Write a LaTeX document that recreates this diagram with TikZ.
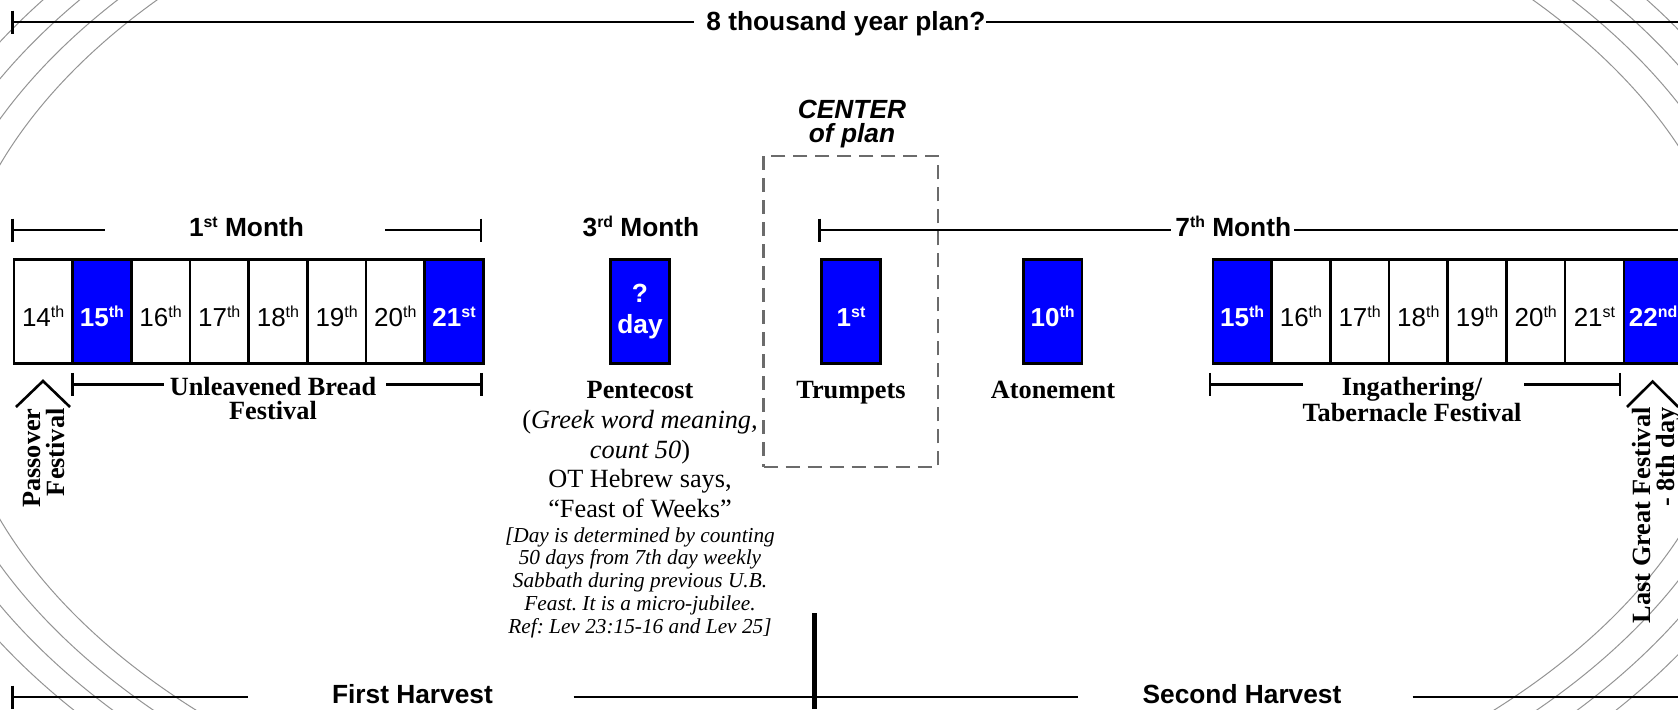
\documentclass[tikz,border=0pt]{standalone}
\usepackage{fontspec}
\setmainfont{Liberation Serif}
\setsansfont{Liberation Sans}
\frenchspacing
\newcommand\supx[1]{\raisebox{0.33em}{\fontsize{8}{8}\selectfont #1}}
\newcommand\supm[1]{\raisebox{0.36em}{\fontsize{7.9}{8}\selectfont #1}}
\tikzset{
  ruler/.style={line width=1.3pt},
  ring/.style={line width=0.5pt, draw=black!42},
  daybox/.style={draw, line width=1.3pt, fill=white, minimum width=29.35pt,
    minimum height=52pt, inner sep=0pt, text height=15pt, text depth=0pt,
    anchor=north west, font=\sffamily\fontsize{13}{14}\selectfont},
  bluebox/.style={daybox, fill=blue, text=white,
    font=\sffamily\bfseries\fontsize{13}{14}\selectfont},
  qbox/.style={draw, line width=1.3pt, fill=blue, text=white, minimum width=29.35pt,
    minimum height=52pt, inner sep=0pt, align=center, anchor=north,
    font=\sffamily\bfseries\fontsize{13.15}{15.5}\selectfont},
  head/.style={font=\sffamily\bfseries\fontsize{13.15}{15}\selectfont, inner sep=0pt},
  feast/.style={font=\bfseries\fontsize{13.15}{11.65}\selectfont, inner sep=0pt},
  rotfeast/.style={font=\bfseries\fontsize{13.15}{12}\selectfont, inner sep=0pt,
    rotate=90, align=right, anchor=north east},
  chev/.style={line width=1.3pt},
  dashbox/.style={draw=black!58, line width=1.4pt, dash pattern=on 7pt off 4pt,
    minimum width=87.2pt, minimum height=155.5pt, inner sep=0pt},
}
\begin{document}
\begin{tikzpicture}[x=0.5pt,y=-0.5pt]
\useasboundingbox (0,0) rectangle (1678,709);
% background rings
\begin{scope}
\clip (0,0) rectangle (1678,709);
\foreach \k in {0,...,3}{
  \draw[ring] (845,342) ellipse [x radius=447.8pt+13.2pt*\k, y radius=267.1pt+11.25pt*\k];
}
\end{scope}

% ---- top title line
\node[head, anchor=base west] (title) at (706,30) {8 thousand year plan?};
\coordinate (tL) at (12.5,22);
\coordinate (tLe) at (694,22);
\coordinate (tR) at (1678,22);
\draw[ruler] (tL) -- (tLe);
\draw[ruler] (title.east |- tR) -- (tR);
\draw[ruler] (tL) ++(0,-11.5) -- ++(0,23);

% ---- month headers
\node[head, anchor=base] (m1) at (246.5,236.7) {1\supm{st} Month};
\coordinate (m1L) at (12.5,230);
\coordinate (m1La) at (105,230);
\coordinate (m1Rb) at (385,230);
\coordinate (m1R) at (481,230);
\draw[ruler] (m1L) -- (m1La);
\draw[ruler] (m1Rb) -- (m1R);
\draw[ruler] (m1L) ++(0,-11.5) -- ++(0,23);
\draw[ruler] (m1R) ++(0,-11.5) -- ++(0,23);

\node[head, anchor=base] (m3) at (641,236.7) {3\supm{rd} Month};

\node[head, anchor=base west] (m7) at (1175,236.7) {7\supm{th} Month};
\coordinate (m7L) at (819.6,230);
\coordinate (m7La) at (1171,230);
\coordinate (m7Rb) at (1294,230);
\coordinate (m7R) at (1678,230);
\draw[ruler] (m7L) -- (m7La);
\draw[ruler] (m7Rb) -- (m7R);
\draw[ruler] (m7L) ++(0,-11.5) -- ++(0,23);

% ---- center of plan
\node[font=\sffamily\bfseries\itshape\fontsize{13.15}{12.2}\selectfont, align=center,
  anchor=north, inner sep=0pt] (ctr) at (852,99.5) {CENTER\\of plan};
\node[dashbox] (ctrbox) at (850.8,311.5) {};

% ---- first month days
\node[daybox]  (a14) at (12.5,258)  {14\supx{th}};
\node[bluebox] (a15) at (71.2,258)  {15\supx{th}};
\node[daybox]  (a16) at (129.9,258) {16\supx{th}};
\node[daybox]  (a17) at (188.6,258) {17\supx{th}};
\node[daybox]  (a18) at (247.3,258) {18\supx{th}};
\node[daybox]  (a19) at (306.0,258) {19\supx{th}};
\node[daybox]  (a20) at (364.7,258) {20\supx{th}};
\node[bluebox] (a21) at (423.4,258) {21\supx{st}};

% ---- single days
\node[qbox] (pday) at (640,258) {?\\day};
\node[bluebox, anchor=north] (t1) at (851,258) {1\supx{st}};
\node[bluebox, anchor=north] (t10) at (1052.7,258) {10\supx{th}};

% ---- seventh month days
\node[bluebox] (b15) at (1211.6,258) {15\supx{th}};
\node[daybox]  (b16) at (1270.3,258) {16\supx{th}};
\node[daybox]  (b17) at (1329.0,258) {17\supx{th}};
\node[daybox]  (b18) at (1387.7,258) {18\supx{th}};
\node[daybox]  (b19) at (1446.4,258) {19\supx{th}};
\node[daybox]  (b20) at (1505.1,258) {20\supx{th}};
\node[daybox]  (b21) at (1563.8,258) {21\supx{st}};
\node[bluebox] (b22) at (1622.5,258) {22\supx{nd}};

% ---- festival labels
\node[feast, align=center, anchor=north] (ub) at (273,377.2) {Unleavened Bread\\Festival};
\coordinate (ubL) at (72.5,384.3);
\coordinate (ubLa) at (164,384.3);
\coordinate (ubRb) at (386,384.3);
\coordinate (ubR) at (481.4,384.3);
\draw[ruler] (ubL) -- (ubLa);
\draw[ruler] (ubRb) -- (ubR);
\draw[ruler] (ubL) ++(0,-11.5) -- ++(0,23);
\draw[ruler] (ubR) ++(0,-11.5) -- ++(0,23);

\node[feast, align=center, anchor=north] (ing) at (1412,376.8) {Ingathering/\\Tabernacle Festival};
\coordinate (igL) at (1210,384.3);
\coordinate (igLa) at (1303,384.3);
\coordinate (igRb) at (1524.4,384.3);
\coordinate (igR) at (1620,384.3);
\draw[ruler] (igL) -- (igLa);
\draw[ruler] (igRb) -- (igR);
\draw[ruler] (igL) ++(0,-11.5) -- ++(0,23);
\draw[ruler] (igR) ++(0,-11.5) -- ++(0,23);

\node[feast, anchor=base] (pent) at (640,398) {Pentecost};
\node[feast, anchor=base] (trump) at (851,398) {Trumpets};
\node[feast, anchor=base] (aton) at (1053,398) {Atonement};

\node[anchor=north, inner sep=0pt, align=center, font=\fontsize{13.15}{14.75}\selectfont]
  (pentdesc) at (640,410.3) {(\textit{Greek word meaning,}\\\textit{count 50})\\OT Hebrew says,\\“Feast of Weeks”};
\node[anchor=north, inner sep=0pt, align=center, font=\itshape\fontsize{10.65}{11.4}\selectfont]
  (pentnote) at (640,527) {[Day is determined by counting\\50 days from 7th day weekly\\Sabbath during previous U.B.\\Feast. It is a micro-jubilee.\\Ref: Lev 23:15-16 and Lev 25]};

% ---- rotated side labels with chevrons
\node[rotfeast] (pass) at (22.6,408) {Passover\\Festival};
\coordinate (pvL) at (16,407);
\coordinate (pvA) at (43,381);
\coordinate (pvR) at (70,407);
\draw[chev] (pvL) -- (pvA) -- (pvR);

\node[rotfeast] (lgf) at (1632,407) {Last Great Festival\\- 8th day};
\coordinate (lgL) at (1627,407);
\coordinate (lgA) at (1652.6,381.5);
\coordinate (lgR) at (1678.2,407);
\draw[chev] (lgL) -- (lgA) -- (lgR);

% ---- harvest line
\node[head, anchor=base] (fh) at (412.5,703) {First Harvest};
\node[head, anchor=base] (sh) at (1242,703) {Second Harvest};
\coordinate (hL) at (12.5,697);
\coordinate (hLa) at (248,697);
\coordinate (hMa) at (573.6,697);
\coordinate (hMb) at (1078,697);
\coordinate (hRb) at (1412.6,697);
\coordinate (hR) at (1678,697);
\coordinate (vTop) at (814.6,613);
\coordinate (vBot) at (814.6,709);
\draw[ruler] (hL) -- (hLa);
\draw[ruler] (hL) ++(0,-11.5) -- ++(0,23);
\draw[ruler] (hMa) -- (hMb);
\draw[ruler] (hRb) -- (hR);
\draw[line width=2.6pt] (vTop) -- (vBot);
\end{tikzpicture}
\end{document}
